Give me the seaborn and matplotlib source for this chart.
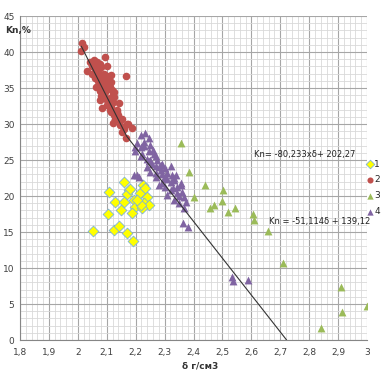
import numpy as np
import pandas as pd
import matplotlib
matplotlib.use("Agg")
import matplotlib.pyplot as plt
import seaborn as sns
from matplotlib.ticker import MultipleLocator, FuncFormatter

# series 1 - yellow diamonds
s1_x = [2.159, 2.107, 2.176, 2.224, 2.130, 2.170, 2.159, 2.193, 2.215, 2.240, 2.228, 2.245, 2.199,
        2.223, 2.150, 2.188, 2.105, 2.052, 2.126, 2.141, 2.170, 2.190, 2.182, 2.217, 2.203, 2.234]
s1_y = [21.9, 20.6, 20.8, 21.5, 19.2, 20.3, 19.2, 19.5, 20.4, 19.9, 19.0, 18.75, 18.5,
        18.3, 18.0, 17.6, 17.5, 15.2, 15.3, 15.9, 14.9, 13.8, 21.0, 18.75, 19.4, 21.1]

# series 2 - red circles
s2_x = [2.014, 2.020, 2.012, 2.055, 2.066, 2.095, 2.041, 2.032, 2.049, 2.101, 2.113, 2.168, 2.060,
        2.084, 2.064, 2.107, 2.118, 2.075, 2.089, 2.124, 2.084, 2.110, 2.136, 2.130, 2.147, 2.173,
        2.188, 2.153, 2.165, 2.141, 2.072, 2.049, 2.089, 2.078, 2.095, 2.101, 2.118, 2.124, 2.113,
        2.136, 2.130, 2.153, 2.170, 2.060, 2.070, 2.080, 2.090, 2.100, 2.070, 2.085, 2.095, 2.105,
        2.110, 2.120, 2.100, 2.115, 2.125, 2.135, 2.140, 2.120, 2.145, 2.160, 2.055, 2.065, 2.075,
        2.090, 2.100, 2.115, 2.110, 2.120, 2.075, 2.080]
s2_y = [41.2, 40.7, 40.2, 38.9, 38.65, 39.3, 38.65, 37.3, 38.0, 38.0, 36.8, 36.6, 36.35,
        36.35, 35.2, 35.4, 34.7, 33.4, 34.0, 33.8, 32.2, 31.9, 31.9, 30.6, 30.6, 30.0,
        29.4, 28.9, 28.0, 32.9, 37.7, 37.0, 37.0, 35.65, 35.2, 33.3, 32.9, 34.5, 31.7,
        31.7, 30.65, 30.65, 30.0, 37.6, 37.2, 37.9, 36.8, 36.1, 36.0, 35.0, 34.4, 34.9,
        33.6, 33.1, 32.6, 32.3, 31.3, 30.9, 31.2, 30.2, 29.8, 29.3, 37.9, 36.9, 38.3,
        35.9, 36.7, 35.8, 35.2, 34.1, 34.6, 33.9]

# series 3 - green triangles
s3_x = [2.358, 2.385, 2.402, 2.439, 2.457, 2.471, 2.497, 2.501, 2.520, 2.544, 2.607, 2.610,
        2.657, 2.711, 2.909, 2.915, 2.842, 3.0]
s3_y = [27.3, 23.3, 19.8, 21.5, 18.4, 18.7, 19.3, 20.8, 17.8, 18.3, 17.5, 16.7,
        15.2, 10.7, 7.3, 3.9, 1.6, 4.7]

# series 4 - purple triangles
s4_x = [2.217, 2.234, 2.228, 2.205, 2.217, 2.251, 2.199, 2.223, 2.245, 2.269, 2.240, 2.257, 2.211,
        2.245, 2.199, 2.263, 2.217, 2.251, 2.275, 2.292, 2.269, 2.286, 2.303, 2.309, 2.327, 2.298,
        2.321, 2.332, 2.356, 2.344, 2.205, 2.251, 2.280, 2.245, 2.286, 2.321, 2.269, 2.303, 2.332,
        2.356, 2.292, 2.321, 2.344, 2.367, 2.332, 2.350, 2.367, 2.365, 2.381, 2.532, 2.537, 2.589,
        2.230, 2.260, 2.280, 2.310, 2.340, 2.360, 2.330, 2.300, 2.270, 2.240, 2.290, 2.375, 2.310,
        2.350, 2.194]
s4_y = [28.5, 28.7, 27.5, 27.3, 26.8, 27.1, 26.2, 25.9, 26.2, 25.5, 25.2, 24.5, 22.7,
        28.0, 26.8, 25.9, 25.5, 25.0, 25.0, 24.5, 24.1, 23.6, 23.85, 23.15, 22.9, 22.5,
        22.0, 22.2, 21.8, 21.3, 22.9, 23.4, 21.5, 24.8, 24.3, 24.1, 23.15, 22.7, 22.5,
        21.5, 21.8, 20.8, 20.4, 19.9, 19.4, 19.0, 18.3, 16.2, 15.7, 8.8, 8.2, 8.3,
        27.0, 26.4, 24.0, 22.3, 22.9, 20.6, 21.1, 21.3, 22.6, 24.0, 23.0, 19.2, 20.1,
        20.0, 22.9]

# trend line vertices
line_x = [2.012, 2.169, 2.722]
line_y = [40.8, 28.3, 0.0]

x_ticks = [1.8, 1.9, 2.0, 2.1, 2.2, 2.3, 2.4, 2.5, 2.6, 2.7, 2.8, 2.9, 3.0]
y_ticks = [0, 5, 10, 15, 20, 25, 30, 35, 40, 45]

sns.set_style("white")
fig = plt.figure(figsize=(3.84, 3.75), dpi=100)
ax = fig.add_axes([20 / 384, 35 / 375, 347 / 384, 324 / 375])

# grid
ax.xaxis.set_minor_locator(MultipleLocator(0.02))
ax.yaxis.set_minor_locator(MultipleLocator(1))
ax.grid(which="major", color="#a6a6a6", lw=0.8)
ax.grid(which="minor", color="#d9d9d9", lw=0.6)
ax.set_axisbelow(True)

sns.lineplot(x=line_x, y=line_y, sort=False, color="#333333", lw=0.8, ax=ax, zorder=5)

sns.scatterplot(x=s1_x, y=s1_y, marker="D", s=30, color="#ffff00", edgecolor="#7fb3d5",
                linewidth=0.6, ax=ax, zorder=3, label="1")
sns.scatterplot(x=s2_x, y=s2_y, marker="o", s=30, color="#c0504d", edgecolor="#c0504d",
                linewidth=0, ax=ax, zorder=3, label="2")
sns.scatterplot(x=s3_x, y=s3_y, marker="^", s=32, color="#9bbb59", edgecolor="#9bbb59",
                linewidth=0, ax=ax, zorder=3, label="3")
sns.scatterplot(x=s4_x, y=s4_y, marker="^", s=32, color="#8064a2", edgecolor="#8064a2",
                linewidth=0, ax=ax, zorder=4, label="4")

ax.set_xlim(1.8, 3.0)
ax.set_ylim(0, 45)
ax.set_xticks(x_ticks)
ax.set_yticks(y_ticks)
ax.xaxis.set_major_formatter(FuncFormatter(lambda v, p: ("%g" % round(v, 1)).replace(".", ",")))
ax.tick_params(axis="both", which="both", length=0, labelsize=6.5, labelcolor="#404040", pad=4)
ax.tick_params(axis="x", pad=6)
for side in ["top", "right"]:
    ax.spines[side].set_visible(False)
for side in ["left", "bottom"]:
    ax.spines[side].set_color("#868686")
    ax.spines[side].set_linewidth(0.8)
ax.set_xlabel("")
ax.set_ylabel("")

ax.legend(loc="center left", bbox_to_anchor=(0.985, 0.47), frameon=False, fontsize=6.5,
          handletextpad=0.1, handlelength=0.8, labelspacing=0.75, borderpad=0,
          markerscale=0.8)

ax.text(2.609, 25.7, "Kn= -80,233xδ+ 202,27", fontsize=6, color="#222222", va="center")
ax.text(2.661, 16.4, "Kn = -51,114δ + 139,12", fontsize=6, color="#222222", va="center")

fig.text(5 / 384, 1 - 30 / 375, "Kn,%", fontsize=6.5, fontweight="bold", color="#333333",
         va="center", ha="left")
fig.text(200 / 384, 1 - 366 / 375, "δ г/см3", fontsize=6.5, fontweight="bold", color="#333333",
         va="center", ha="center")

fig.savefig("out.png", dpi=100)
